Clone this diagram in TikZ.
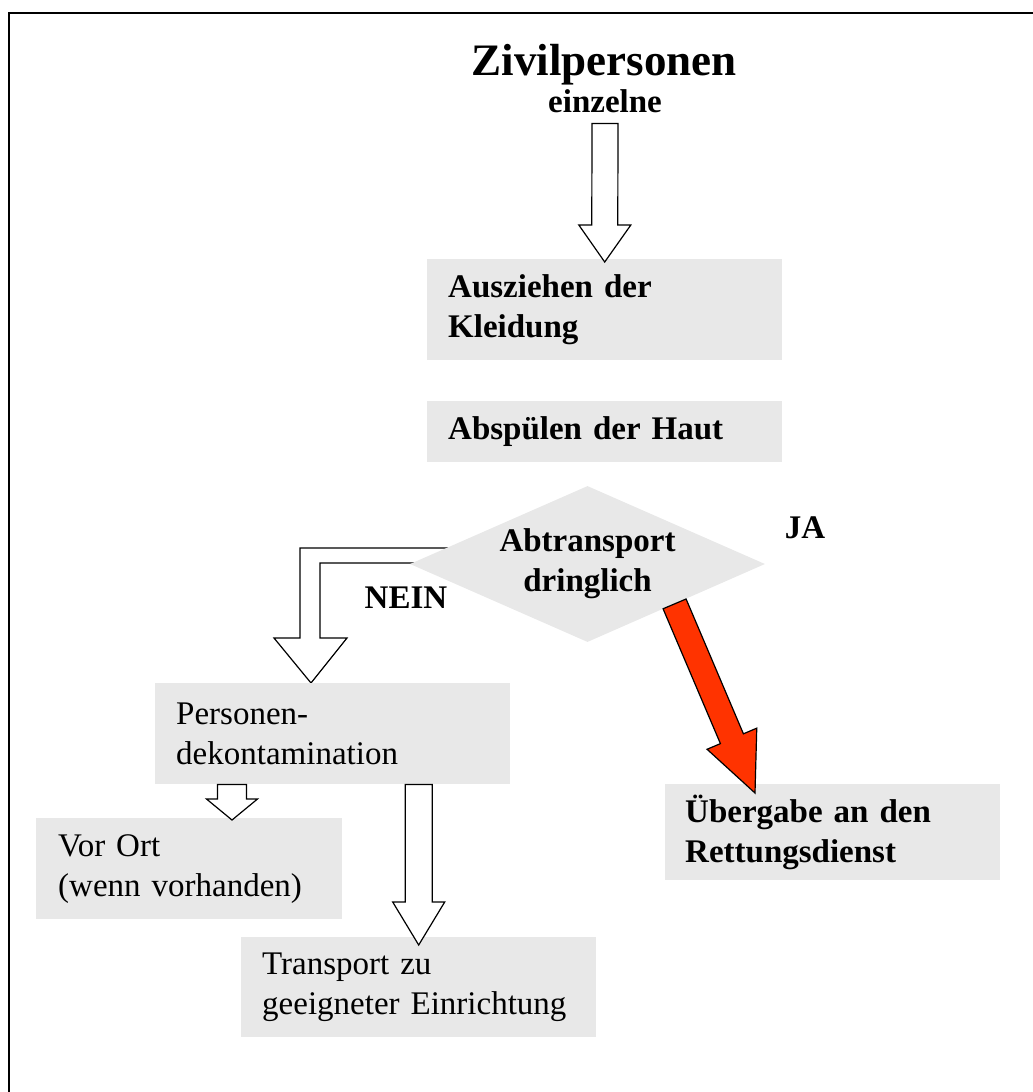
\documentclass[tikz,border=0pt]{standalone}
\usepackage{fontspec}
\setmainfont{Liberation Serif}
\usetikzlibrary{positioning,calc,shapes.geometric,backgrounds}

\definecolor{boxgray}{RGB}{232,232,232}
\definecolor{alarmred}{RGB}{255,51,0}

% block arrow: [style]{start}{tip}{shaft half width}{head half width}{head length}
\newcommand{\blockarrow}[6][hollow]{%
  \coordinate (ba) at ($(#3)!#6!(#2)$);
  \draw[#1] ($(#2)!#4!90:(#3)$) -- ($(ba)!#4!90:(#3)$) -- ($(ba)!#5!90:(#3)$) -- (#3)
    -- ($(ba)!#5!-90:(#3)$) -- ($(ba)!#4!-90:(#3)$) -- ($(#2)!#4!-90:(#3)$) -- cycle;
}

\begin{document}
\begin{tikzpicture}[x=1pt, y=-1pt,
  every node/.style={font=\fontsize{33}{40}\selectfont},
  heavy/.style={font=\fontsize{33}{40}\selectfont\bfseries},
  box/.style={fill=boxgray, anchor=north west, inner xsep=21pt, inner ysep=0pt, align=left},
  lbl/.style={heavy, inner sep=0pt, anchor=base},
  hollow/.style={draw=black, fill=white, line width=1.2pt},
  alarm/.style={draw=black, fill=alarmred, line width=1.2pt}]
  \useasboundingbox (0,0) rectangle (1033,1092);

  % Frame
  \draw[line width=2pt] (8.5,1092) -- (8.5,12.5) -- (1033,12.5);

  % Title
  \node[lbl, font=\fontsize{45}{50}\selectfont\bfseries] (title) at (604,75) {Zivilpersonen};
  \node[lbl] (einz) at (605,112) {einzelne};

  % Boxes
  \node[box, heavy, text width=313pt, minimum height=101pt] (ausz) at (427,259) {Ausziehen~der\\Kleidung};
  \node[box, heavy, text width=313pt, minimum height=61pt] (absp) at (427,401) {Abspülen~der~Haut};
  \node[box, text width=313pt, minimum height=101pt] (perso) at (155,683) {Personen-\\dekontamination};
  \node[box, inner xsep=22pt, text width=262pt, minimum height=101pt] (vorort) at (36,818) {Vor~Ort\\(wenn~vorhanden)};
  \node[box, text width=313pt, minimum height=100pt] (transp) at (241,937) {Transport~zu\\geeigneter~Einrichtung};
  \node[box, heavy, inner xsep=20pt, text width=295pt, minimum height=96pt] (ueber) at (665,784) {Übergabe~an~den\\Rettungsdienst};

  % Decision
  \node[diamond, heavy, fill=boxgray, minimum width=355pt, minimum height=156pt,
        inner sep=0pt, shape aspect=2.3, align=center] (dec) at (587.5,564) {Abtransport\\dringlich};
  \node[lbl] (nein) at (406,608) {NEIN};
  \node[lbl] (ja) at (805,538) {JA};

  % Arrows
  \coordinate (a1s) at ($(einz.south)+(0,11)$);
  \coordinate (a1t) at ($(ausz.north)+(0,3)$);
  \blockarrow{a1s}{a1t}{13pt}{26pt}{37pt}

  \coordinate (a2s) at ($(perso.south west)+(77,0)$);
  \coordinate (a2u) at (a2s |- vorort.north);
  \coordinate (a2t) at ($(a2u)+(0,2)$);
  \blockarrow{a2s}{a2t}{14.5pt}{25.5pt}{21pt}

  \coordinate (a3s) at (perso.south -| transp.north);
  \coordinate (a3t) at ($(transp.north)+(0,8)$);
  \blockarrow{a3s}{a3t}{13.5pt}{26pt}{43pt}

  \begin{scope}[on background layer]
    \draw[hollow] let \p1=(dec.west), \p2=($(perso.north west)+(156,0)$) in
      (\x1+40pt,\y1+16pt) -- (\x2-11pt,\y1+16pt) -- (\x2-11pt,\y2+45pt) -- (\x2-37pt,\y2+45pt)
      -- (\p2) -- (\x2+36pt,\y2+45pt) -- (\x2+9pt,\y2+45pt) -- (\x2+9pt,\y1+1pt) -- (\x1+40pt,\y1+1pt);
  \end{scope}

  \coordinate (rs) at ($(dec.south)!0.49!(dec.east)$);
  \coordinate (rt) at ($(ueber.north west)+(90,9)$);
  \blockarrow[alarm]{rs}{rt}{12.5pt}{27pt}{59pt}
\end{tikzpicture}
\end{document}
